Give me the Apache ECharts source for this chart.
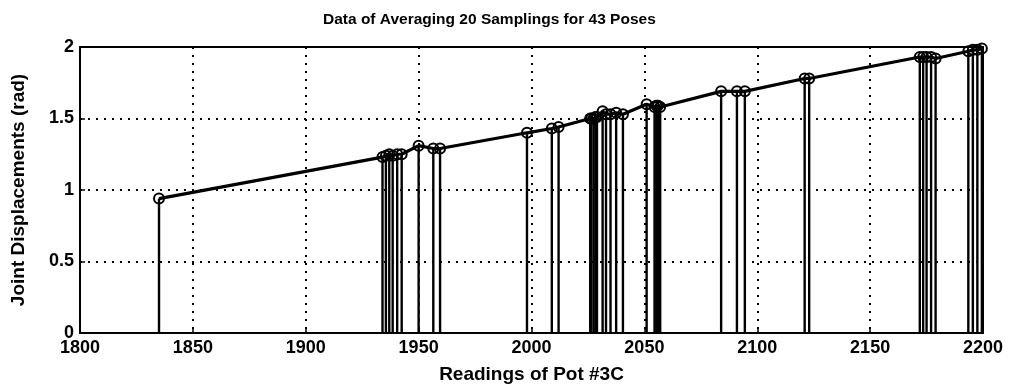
<!DOCTYPE html>
<html>
<head>
<meta charset="utf-8">
<script src="https://cdn.jsdelivr.net/npm/echarts@6/dist/echarts.min.js"></script>
<style>
html,body{margin:0;padding:0;background:#fff;}
#chart{width:1015px;height:389px;}
</style>
</head>
<body>
<div id="chart"></div>
<script>
// Pot #3C readings (x) and averaged joint displacements (rad) for 43 poses
const potReadings = [
  1835, 1934, 1935.5, 1937, 1938.5, 1940.5, 1942.5, 1950, 1956.5, 1959.5,
  1998, 2009, 2012, 2026, 2026.5, 2027.5, 2028.3, 2029, 2031.5, 2033,
  2035, 2037.5, 2040.5, 2051, 2054.5, 2055.3, 2055.8, 2056, 2057, 2084,
  2091, 2094.5, 2121, 2123, 2172, 2173.5, 2175, 2177, 2179, 2193.5,
  2195.5, 2197.5, 2199.5
];
const jointDisp = [
  0.94, 1.23, 1.24, 1.25, 1.24, 1.25, 1.25, 1.31, 1.29, 1.29,
  1.40, 1.43, 1.44, 1.50, 1.50, 1.50, 1.51, 1.51, 1.55, 1.53,
  1.53, 1.54, 1.53, 1.60, 1.58, 1.59, 1.59, 1.59, 1.58, 1.69,
  1.69, 1.69, 1.78, 1.78, 1.93, 1.93, 1.93, 1.93, 1.92, 1.97,
  1.98, 1.98, 1.99
];
const xTicks = [1800, 1850, 1900, 1950, 2000, 2050, 2100, 2150, 2200];
const yTicks = [0, 0.5, 1, 1.5, 2];

const pts = potReadings.map((x, i) => [x, jointDisp[i]]);
const FONT = '"Liberation Sans", Arial, sans-serif';

const chart = echarts.init(document.getElementById('chart'), null, {renderer: 'canvas'});
chart.setOption({
  animation: false,
  backgroundColor: '#fff',
  title: {
    text: 'Data of Averaging 20 Samplings for 43 Poses',
    left: 318,
    top: 7,
    textStyle: {fontFamily: FONT, fontSize: 15.5, fontWeight: 'bold', color: '#000'}
  },
  grid: {left: 80, right: 32, top: 47, bottom: 54, show: true, borderColor: '#000', borderWidth: 2, backgroundColor: 'transparent'},
  xAxis: {
    type: 'value',
    min: xTicks[0], max: xTicks[xTicks.length - 1], interval: 50,
    name: 'Readings of Pot #3C',
    nameLocation: 'middle', nameGap: 32,
    nameTextStyle: {fontFamily: FONT, fontSize: 19, fontWeight: 'bold', color: '#000'},
    axisLine: {show: true, lineStyle: {color: '#000', width: 2}},
    axisTick: {show: true, inside: true, length: 5, lineStyle: {color: '#000', width: 1.5}},
    axisLabel: {fontFamily: FONT, fontSize: 18, fontWeight: 'bold', color: '#000', margin: 6,
      formatter: v => String(v)},
    splitLine: {show: true, lineStyle: {color: '#000', type: [2, 6], width: 2}}
  },
  yAxis: {
    type: 'value',
    min: yTicks[0], max: yTicks[yTicks.length - 1], interval: 0.5,
    name: 'Joint Displacements (rad)',
    nameLocation: 'middle', nameGap: 52,
    nameTextStyle: {fontFamily: FONT, fontSize: 19, fontWeight: 'bold', color: '#000'},
    axisLine: {show: true, lineStyle: {color: '#000', width: 2}},
    axisTick: {show: true, inside: true, length: 5, lineStyle: {color: '#000', width: 1.5}},
    axisLabel: {fontFamily: FONT, fontSize: 18, fontWeight: 'bold', color: '#000', margin: 6,
      formatter: v => String(v)},
    splitLine: {show: true, lineStyle: {color: '#000', type: [2, 6], width: 2}}
  },
  series: [
    {
      type: 'custom',
      data: pts,
      z: 3,
      clip: true,
      renderItem: function (params, api) {
        const p0 = api.coord([api.value(0), 0]);
        const p1 = api.coord([api.value(0), api.value(1)]);
        return {
          type: 'line',
          shape: {x1: p0[0], y1: p0[1], x2: p1[0], y2: p1[1]},
          style: {stroke: '#000', lineWidth: 2.4}
        };
      }
    },
    {
      type: 'line',
      data: pts,
      z: 4,
      symbol: 'circle',
      symbolSize: 10,
      showAllSymbol: true,
      lineStyle: {color: '#000', width: 3.2},
      itemStyle: {color: 'rgba(0,0,0,0)', borderColor: '#000', borderWidth: 2}
    }
  ]
});
</script>
</body>
</html>
